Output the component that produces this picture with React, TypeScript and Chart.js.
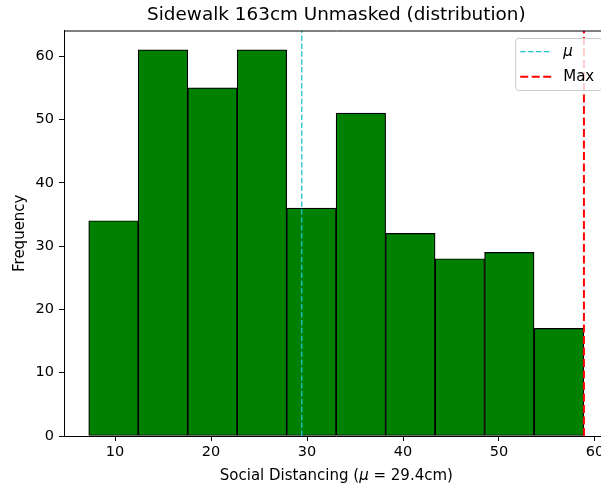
import React, { useEffect, useRef } from "react";
import { Chart, registerables } from "chart.js";

Chart.register(...registerables);

// ---- data ----
const binEdges = [7.26, 12.41, 17.57, 22.72, 27.88, 33.03, 38.19, 43.34, 48.5, 53.65, 58.85];
const counts = [34, 61, 55, 61, 36, 51, 32, 28, 29, 17];
const meanValue = 29.45;
const maxValue = 58.85;
const xTicks = [10, 20, 30, 40, 50, 60];
const yTicks = [0, 10, 20, 30, 40, 50, 60];
const xRange = [4.68, 61.43];
const yRange = [0, 64.05];
const titleText = "Sidewalk 163cm Unmasked (distribution)";
const xLabelParts = [
  { text: "Social Distancing (", italic: false },
  { text: "μ", italic: true },
  { text: " = 29.4cm)", italic: false },
];
const yLabel = "Frequency";
const legendLabels = [
  { text: "μ", italic: true },
  { text: "Max", italic: false },
];

const FONT = '"DejaVu Sans", "Liberation Sans", sans-serif';
const BAR_COLOR = "#008000";
const MEAN_COLOR = "#1fc4cc";
const MAX_COLOR = "#ff0000";

const CANVAS_W = 640;
const CANVAS_H = 486;

const decorPlugin = {
  id: "decor",
  afterDatasetsDraw(chart: any) {
    const { ctx, chartArea: a } = chart;
    ctx.save();
    // top & right spines
    ctx.strokeStyle = "#000";
    ctx.lineWidth = 1;
    ctx.setLineDash([]);
    ctx.beginPath();
    ctx.moveTo(a.left, a.top + 0.5);
    ctx.lineTo(a.right, a.top + 0.5);
    ctx.moveTo(a.right - 0.5, a.top);
    ctx.lineTo(a.right - 0.5, a.bottom);
    ctx.stroke();

    // title
    ctx.fillStyle = "#000";
    ctx.font = `18.4px ${FONT}`;
    ctx.textAlign = "center";
    ctx.textBaseline = "middle";
    ctx.fillText(titleText, (a.left + a.right) / 2, 15);

    // x label with italic mu
    const fontFor = (it: boolean) => `${it ? "oblique " : ""}15px ${FONT}`;
    let total = 0;
    const widths = xLabelParts.map((p) => {
      ctx.font = fontFor(p.italic);
      const w = ctx.measureText(p.text).width;
      total += w;
      return w;
    });
    let x = (a.left + a.right) / 2 - total / 2;
    ctx.textAlign = "left";
    xLabelParts.forEach((p, i) => {
      ctx.font = fontFor(p.italic);
      ctx.fillText(p.text, x, 476);
      x += widths[i];
    });

    // legend
    const right = a.right - 7.5;
    const left = right - 86;
    const top = a.top + 7.5;
    const h = 52;
    ctx.beginPath();
    (ctx as any).roundRect(left + 0.5, top + 0.5, right - left, h, 3);
    ctx.fillStyle = "rgba(255,255,255,0.8)";
    ctx.fill();
    ctx.strokeStyle = "#cccccc";
    ctx.lineWidth = 1;
    ctx.stroke();

    const ds = chart.data.datasets;
    const entries = [ds[0], ds[1]];
    entries.forEach((d: any, i: number) => {
      const y = top + 13.7 + i * 25;
      ctx.beginPath();
      ctx.setLineDash(d.borderDash);
      ctx.strokeStyle = d.borderColor;
      ctx.lineWidth = d.borderWidth;
      ctx.moveTo(left + 5, y);
      ctx.lineTo(left + 36, y);
      ctx.stroke();
      ctx.setLineDash([]);
      ctx.fillStyle = "#000";
      ctx.font = fontFor(legendLabels[i].italic);
      ctx.textAlign = "left";
      ctx.textBaseline = "middle";
      ctx.fillText(legendLabels[i].text, left + 48, y);
    });
    ctx.restore();
  },
};

export default function App() {
  const ref = useRef<HTMLCanvasElement | null>(null);

  useEffect(() => {
    if (!ref.current) return;
    const barData = counts.map((c, i) => ({
      x: (binEdges[i] + binEdges[i + 1]) / 2,
      y: c,
    }));
    const chart = new Chart(ref.current, {
      type: "bar",
      data: {
        datasets: [
          {
            type: "line",
            label: "μ",
            data: [
              { x: meanValue, y: yRange[0] },
              { x: meanValue, y: yRange[1] },
            ],
            borderColor: MEAN_COLOR,
            borderWidth: 1.3,
            borderDash: [5.5, 2.4],
            pointRadius: 0,
            order: 0,
          } as any,
          {
            type: "line",
            label: "Max",
            data: [
              { x: maxValue, y: yRange[0] },
              { x: maxValue, y: yRange[1] },
            ],
            borderColor: MAX_COLOR,
            borderWidth: 2,
            borderDash: [8, 3.5],
            pointRadius: 0,
            order: 0,
          } as any,
          {
            type: "bar",
            label: "hist",
            data: barData,
            backgroundColor: BAR_COLOR,
            borderColor: "#000",
            borderWidth: 1.2,
            borderSkipped: false,
            barPercentage: 1,
            categoryPercentage: 1,
            order: 1,
          } as any,
        ],
      },
      options: {
        responsive: false,
        animation: false,
        devicePixelRatio: 1,
        layout: { padding: { top: 30.5, right: CANVAS_W - 608.7, bottom: 0, left: 0 } },
        plugins: {
          legend: { display: false },
          tooltip: { enabled: false },
          title: { display: false },
        },
        scales: {
          x: {
            type: "linear",
            min: xRange[0],
            max: xRange[1],
            offset: false,
            grid: {
              offset: false,
              drawOnChartArea: false,
              drawTicks: true,
              tickLength: 5,
              color: "#000",
              lineWidth: 1,
            },
            border: { display: true, color: "#000", width: 1 },
            ticks: {
              color: "#000",
              font: { family: FONT, size: 14.5 },
              padding: 3,
              maxRotation: 0,
              autoSkip: false,
            },
            afterBuildTicks: (axis: any) => {
              axis.ticks = xTicks.map((v) => ({ value: v }));
            },
            afterFit: (axis: any) => {
              axis.height = CANVAS_H - 436;
            },
          },
          y: {
            type: "linear",
            min: yRange[0],
            max: yRange[1],
            grid: {
              drawOnChartArea: false,
              drawTicks: true,
              tickLength: 5,
              color: "#000",
              lineWidth: 1,
            },
            border: { display: true, color: "#000", width: 1 },
            ticks: {
              color: "#000",
              font: { family: FONT, size: 14.5 },
              padding: 5,
              autoSkip: false,
            },
            title: {
              display: true,
              text: yLabel,
              color: "#000",
              font: { family: FONT, size: 15 },
              padding: { top: 11.5, bottom: 0 },
            },
            afterBuildTicks: (axis: any) => {
              axis.ticks = yTicks.map((v) => ({ value: v }));
            },
            afterFit: (axis: any) => {
              axis.width = 64;
            },
          },
        },
      },
      plugins: [decorPlugin],
    });
    return () => chart.destroy();
  }, []);

  return (
    <div
      style={{
        position: "absolute",
        left: 0,
        top: 0,
        width: 601,
        height: 486,
        overflow: "hidden",
        background: "#fff",
      }}
    >
      <canvas ref={ref} width={CANVAS_W} height={CANVAS_H} style={{ display: "block" }} />
    </div>
  );
}
